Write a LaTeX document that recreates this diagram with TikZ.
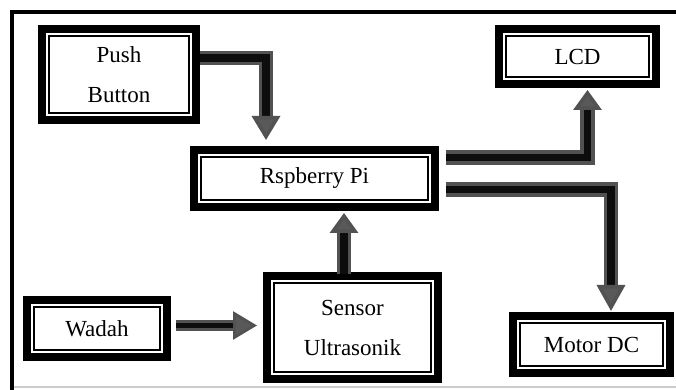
\documentclass[tikz,border=0pt]{standalone}
\usepackage{fontspec}
\setmainfont{Liberation Serif}
\usetikzlibrary{arrows.meta,calc}

\tikzset{
  blok/.style={draw, line width=4pt, inner sep=0pt, align=center,
    font=\fontsize{11.5}{20}\selectfont,
    path picture={\draw[line width=0.8pt]
      ([shift={(3.4pt,-3.4pt)}]path picture bounding box.north west) rectangle
      ([shift={(-3.4pt,3.4pt)}]path picture bounding box.south east);}},
  pipe/.style={draw=black!68, double=black!95, line width=1.8pt, double distance=3.6pt,
    line join=miter, -{Triangle[length=#1, width=14pt, fill=black!65]}},
  pipe/.default=10pt
}

\begin{document}
\begin{tikzpicture}[x=0.5pt, y=-0.5pt]
            \useasboundingbox (0,0) rectangle (676,390);
            % frame
            \draw[line width=2pt] (676,12) -- (12,12) -- (12,390);
            \draw[black!20, line width=0.8pt] (14,387) -- (676,387);
            % blocks
            \node[blok, minimum width=77pt, minimum height=45.5pt] (push) at (119,74.5) {Push\\Button};
            \node[blok, minimum width=120.5pt, minimum height=28.5pt] (pi) at (314.5,178.5) {Rspberry Pi};
            \node[blok, minimum width=78.5pt, minimum height=27.5pt] (lcd) at (577.5,56.5) {LCD};
            \node[blok, minimum width=70pt, minimum height=28.5pt] (wadah) at (97,328.5) {Wadah};
            \node[blok, minimum width=85.5pt, minimum height=51.5pt] (sensor) at (352.5,327.5) {Sensor\\Ultrasonik};
            \node[blok, minimum width=78.5pt, minimum height=28.5pt] (motor) at (591.5,344.5) {Motor DC};
            % arrows
            \draw[pipe=12pt] ($(push.east)+(0,-16.5)$) -| ($(pi.north west)+(76,-6)$);
            \draw[pipe=10pt] ($(pi.east)+(7,-21)$) -| ($(lcd.south)+(10,2)$);
            \draw[pipe=13pt] ($(pi.east)+(7,11)$) -| ($(motor.north)+(19.5,-1)$);
            \draw[pipe=10pt] ($(sensor.north)+(-8.5,2)$) -- ($(pi.south)+(29.5,2)$);
            \draw[pipe=12pt, line width=1.4pt, double distance=2.6pt] ($(wadah.east)+(5,-3)$) -- ($(sensor.west)+(-6,-2)$);
\end{tikzpicture}
\end{document}
